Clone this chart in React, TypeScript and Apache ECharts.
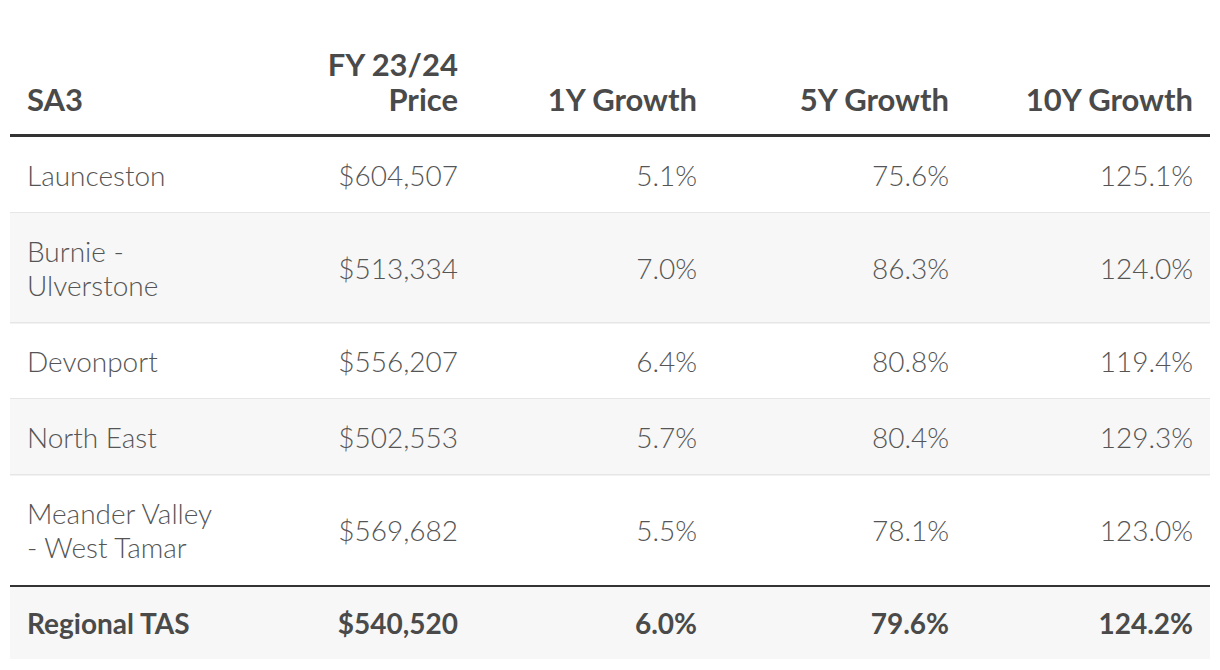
import React, { useEffect, useRef } from "react";
import * as echarts from "echarts";

const headers = ["SA3", "FY 23/24\nPrice", "1Y Growth", "5Y Growth", "10Y Growth"];
const regions = ["Launceston", "Burnie -\nUlverstone", "Devonport", "North East", "Meander Valley\n- West Tamar"];
const prices = ["$604,507", "$513,334", "$556,207", "$502,553", "$569,682"];
const growth1y = ["5.1%", "7.0%", "6.4%", "5.7%", "5.5%"];
const growth5y = ["75.6%", "86.3%", "80.8%", "80.4%", "78.1%"];
const growth10y = ["125.1%", "124.0%", "119.4%", "129.3%", "123.0%"];
const totalRow = ["Regional TAS", "$540,520", "6.0%", "79.6%", "124.2%"];

export default function App() {
  const ref = useRef<HTMLDivElement>(null);
  useEffect(() => {
    document.body.style.margin = "0";
    const chart = echarts.init(ref.current!, null, { renderer: "svg" });
    const left = 10;
    const right = 1210;
    const colX = [27, 458, 697, 949, 1193];
    const font = "Lato, 'Open Sans', sans-serif";
    const bodyColor = "#555555";
    const headColor = "#4a4a4a";
    const els: any[] = [];

    // header
    headers.forEach((h, i) => {
      els.push({
        type: "text",
        x: colX[i],
        y: 116,
        style: {
          text: h,
          fontFamily: font,
          fontWeight: 700,
          fontSize: 31,
          lineHeight: 35,
          fill: headColor,
          align: i === 0 ? "left" : "right",
          verticalAlign: "bottom",
        },
      });
    });
    els.push({ type: "rect", shape: { x: left, y: 134, width: right - left, height: 3 }, style: { fill: "#333333" } });

    let y = 137;
    regions.forEach((r, idx) => {
      const lines = r.split("\n").length;
      const h = 76 + 34 * (lines - 1);
      if (idx % 2 === 1) {
        els.push({ type: "rect", shape: { x: left, y, width: right - left, height: h }, style: { fill: "#f7f7f7" } });
      }
      const cells = [r, prices[idx], growth1y[idx], growth5y[idx], growth10y[idx]];
      cells.forEach((c, i) => {
        els.push({
          type: "text",
          x: colX[i],
          y: y + h / 2,
          style: {
            text: c,
            fontFamily: font,
            fontWeight: 300,
            fontSize: 28,
            lineHeight: 34,
            fill: bodyColor,
            align: i === 0 ? "left" : "right",
            verticalAlign: "middle",
          },
        });
      });
      y += h;
      if (idx < regions.length - 1) {
        els.push({ type: "rect", shape: { x: left, y: y - 1, width: right - left, height: 1.5 }, style: { fill: "#e6e6e6" } });
      }
    });
    // total separator
    els.push({ type: "rect", shape: { x: left, y: y, width: right - left, height: 2 }, style: { fill: "#333333" } });
    const ty = y + 2;
    els.push({ type: "rect", shape: { x: left, y: ty, width: right - left, height: 72 }, style: { fill: "#f7f7f7" } });
    totalRow.forEach((c, i) => {
      els.push({
        type: "text",
        x: colX[i],
        y: ty + 36,
        style: {
          text: c,
          fontFamily: font,
          fontWeight: 700,
          fontSize: 28,
          fill: headColor,
          align: i === 0 ? "left" : "right",
          verticalAlign: "middle",
        },
      });
    });

    chart.setOption({ animation: false, graphic: { elements: els } });
    return () => chart.dispose();
  }, []);
  return <div ref={ref} style={{ width: 1220, height: 670, background: "#fff" }} />;
}
